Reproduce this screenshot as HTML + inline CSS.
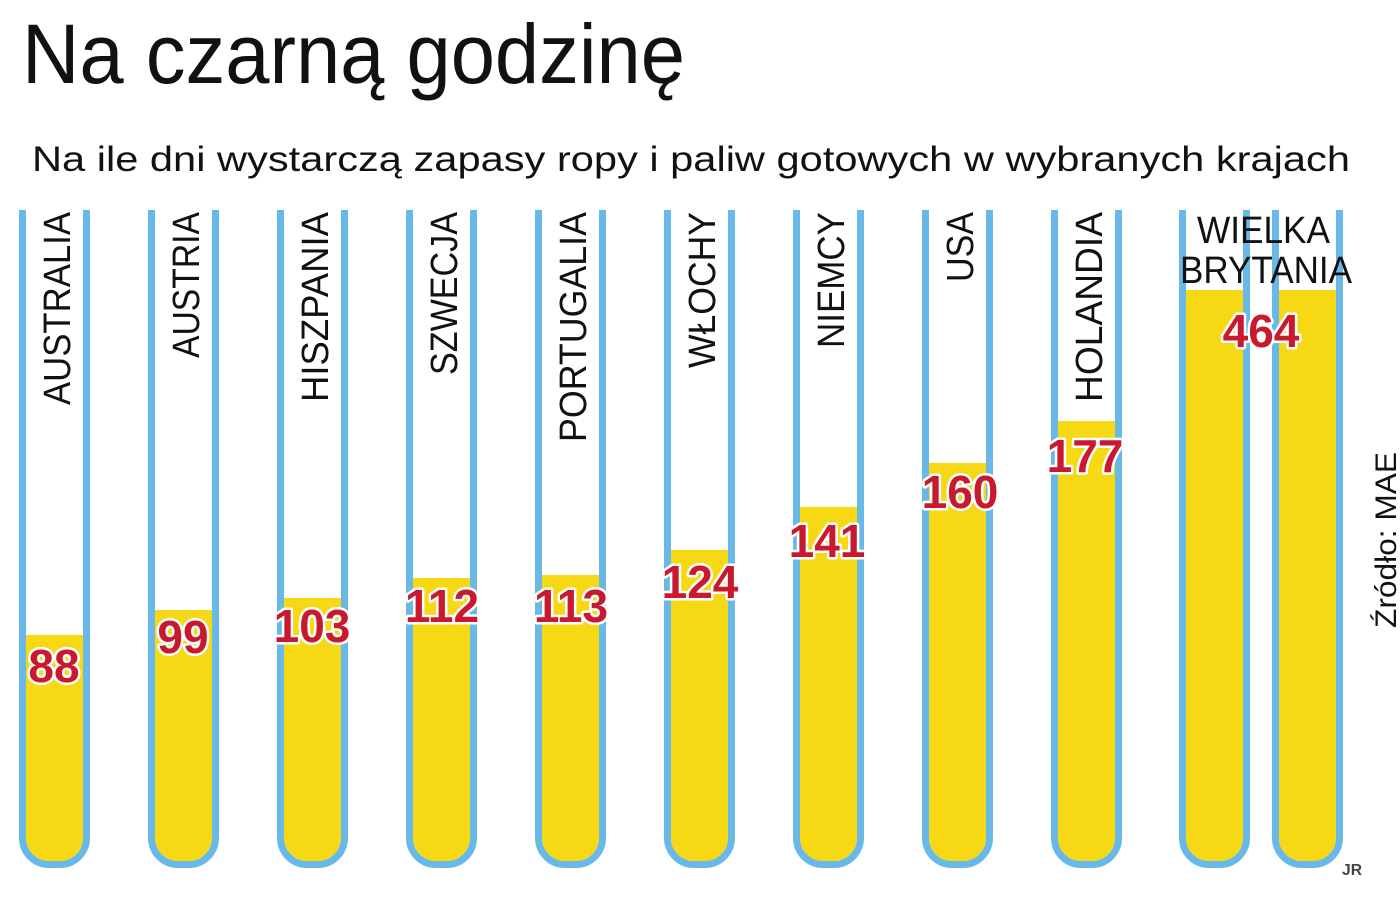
<!DOCTYPE html>
<html>
<head>
<meta charset="utf-8">
<style>
  html,body{margin:0;padding:0;background:#fff;}
  svg{display:block;}
  .t{font-family:"Liberation Sans",sans-serif;fill:#111;}
  .c{font-family:"Liberation Sans",sans-serif;fill:#111;font-size:38px;}
  .v{font-family:"Liberation Sans",sans-serif;font-weight:bold;font-size:46px;fill:#c8192e;stroke:#fff;stroke-width:5px;paint-order:stroke;stroke-linejoin:round;}
  .w{fill:none;stroke:#68b9e8;stroke-width:7;}
  .f{fill:#f6d914;}
</style>
</head>
<body>
<svg width="1400" height="900" viewBox="0 0 1400 900" xmlns="http://www.w3.org/2000/svg">
  <rect width="1400" height="900" fill="#fff"/>

  <text class="t" x="22" y="83" font-size="84" textLength="663" lengthAdjust="spacingAndGlyphs">Na czarną godzinę</text>
  <text class="t" x="32" y="171" font-size="35" textLength="1318" lengthAdjust="spacingAndGlyphs">Na ile dni wystarczą zapasy ropy i paliw gotowych w wybranych krajach</text>

  <!-- Tube template: L = left edge -->
  <!-- AUSTRALIA L=19 fill 635 -->
  <g>
    <path class="f" d="M26 635 H83 V838 A23 23 0 0 1 60 861 H49 A23 23 0 0 1 26 838 Z"/>
    <path class="w" d="M22.5 210 V838 A26.5 26.5 0 0 0 49 864.5 H60 A26.5 26.5 0 0 0 86.5 838 V210"/>
  </g>
  <!-- AUSTRIA L=148 fill 610 -->
  <g transform="translate(129,0)">
    <path class="f" d="M26 610 H83 V838 A23 23 0 0 1 60 861 H49 A23 23 0 0 1 26 838 Z"/>
    <path class="w" d="M22.5 210 V838 A26.5 26.5 0 0 0 49 864.5 H60 A26.5 26.5 0 0 0 86.5 838 V210"/>
  </g>
  <!-- HISZPANIA L=277 fill 598 -->
  <g transform="translate(258,0)">
    <path class="f" d="M26 598 H83 V838 A23 23 0 0 1 60 861 H49 A23 23 0 0 1 26 838 Z"/>
    <path class="w" d="M22.5 210 V838 A26.5 26.5 0 0 0 49 864.5 H60 A26.5 26.5 0 0 0 86.5 838 V210"/>
  </g>
  <!-- SZWECJA L=406 fill 578 -->
  <g transform="translate(387,0)">
    <path class="f" d="M26 578 H83 V838 A23 23 0 0 1 60 861 H49 A23 23 0 0 1 26 838 Z"/>
    <path class="w" d="M22.5 210 V838 A26.5 26.5 0 0 0 49 864.5 H60 A26.5 26.5 0 0 0 86.5 838 V210"/>
  </g>
  <!-- PORTUGALIA L=535 fill 575 -->
  <g transform="translate(516,0)">
    <path class="f" d="M26 575 H83 V838 A23 23 0 0 1 60 861 H49 A23 23 0 0 1 26 838 Z"/>
    <path class="w" d="M22.5 210 V838 A26.5 26.5 0 0 0 49 864.5 H60 A26.5 26.5 0 0 0 86.5 838 V210"/>
  </g>
  <!-- WLOCHY L=664 fill 550 -->
  <g transform="translate(645,0)">
    <path class="f" d="M26 550 H83 V838 A23 23 0 0 1 60 861 H49 A23 23 0 0 1 26 838 Z"/>
    <path class="w" d="M22.5 210 V838 A26.5 26.5 0 0 0 49 864.5 H60 A26.5 26.5 0 0 0 86.5 838 V210"/>
  </g>
  <!-- NIEMCY L=793 fill 507 -->
  <g transform="translate(774,0)">
    <path class="f" d="M26 507 H83 V838 A23 23 0 0 1 60 861 H49 A23 23 0 0 1 26 838 Z"/>
    <path class="w" d="M22.5 210 V838 A26.5 26.5 0 0 0 49 864.5 H60 A26.5 26.5 0 0 0 86.5 838 V210"/>
  </g>
  <!-- USA L=922 fill 463 -->
  <g transform="translate(903,0)">
    <path class="f" d="M26 463 H83 V838 A23 23 0 0 1 60 861 H49 A23 23 0 0 1 26 838 Z"/>
    <path class="w" d="M22.5 210 V838 A26.5 26.5 0 0 0 49 864.5 H60 A26.5 26.5 0 0 0 86.5 838 V210"/>
  </g>
  <!-- HOLANDIA L=1051 fill 421 -->
  <g transform="translate(1032,0)">
    <path class="f" d="M26 421 H83 V838 A23 23 0 0 1 60 861 H49 A23 23 0 0 1 26 838 Z"/>
    <path class="w" d="M22.5 210 V838 A26.5 26.5 0 0 0 49 864.5 H60 A26.5 26.5 0 0 0 86.5 838 V210"/>
  </g>
  <!-- WB tube 1 L=1179 fill 290 -->
  <g transform="translate(1160,0)">
    <path class="f" d="M26 290 H83 V838 A23 23 0 0 1 60 861 H49 A23 23 0 0 1 26 838 Z"/>
    <path class="w" d="M22.5 210 V838 A26.5 26.5 0 0 0 49 864.5 H60 A26.5 26.5 0 0 0 86.5 838 V210"/>
  </g>
  <!-- WB tube 2 L=1272 fill 290 -->
  <g transform="translate(1253,0)">
    <path class="f" d="M26 290 H83 V838 A23 23 0 0 1 60 861 H49 A23 23 0 0 1 26 838 Z"/>
    <path class="w" d="M22.5 210 V838 A26.5 26.5 0 0 0 49 864.5 H60 A26.5 26.5 0 0 0 86.5 838 V210"/>
  </g>

  <!-- Country labels (vertical) -->
  <text class="c" transform="translate(70,212) rotate(-90)" text-anchor="end" textLength="193" lengthAdjust="spacingAndGlyphs">AUSTRALIA</text>
  <text class="c" transform="translate(199,212) rotate(-90)" text-anchor="end" textLength="146" lengthAdjust="spacingAndGlyphs">AUSTRIA</text>
  <text class="c" transform="translate(328,212) rotate(-90)" text-anchor="end" textLength="190" lengthAdjust="spacingAndGlyphs">HISZPANIA</text>
  <text class="c" transform="translate(457,212) rotate(-90)" text-anchor="end" textLength="163" lengthAdjust="spacingAndGlyphs">SZWECJA</text>
  <text class="c" transform="translate(586,212) rotate(-90)" text-anchor="end" textLength="230" lengthAdjust="spacingAndGlyphs">PORTUGALIA</text>
  <text class="c" transform="translate(715,212) rotate(-90)" text-anchor="end" textLength="156" lengthAdjust="spacingAndGlyphs">WŁOCHY</text>
  <text class="c" transform="translate(844,212) rotate(-90)" text-anchor="end" textLength="136" lengthAdjust="spacingAndGlyphs">NIEMCY</text>
  <text class="c" transform="translate(973,212) rotate(-90)" text-anchor="end" textLength="70" lengthAdjust="spacingAndGlyphs">USA</text>
  <text class="c" transform="translate(1102,212) rotate(-90)" text-anchor="end" textLength="190" lengthAdjust="spacingAndGlyphs">HOLANDIA</text>

  <text class="c" x="1197" y="243" textLength="133" lengthAdjust="spacingAndGlyphs">WIELKA</text>
  <text class="c" x="1180" y="283" textLength="172" lengthAdjust="spacingAndGlyphs">BRYTANIA</text>

  <!-- Values -->
  <text class="v" x="54" y="682" text-anchor="middle">88</text>
  <text class="v" x="183" y="653" text-anchor="middle">99</text>
  <text class="v" x="312" y="642" text-anchor="middle">103</text>
  <text class="v" x="442" y="622" text-anchor="middle">112</text>
  <text class="v" x="571" y="622" text-anchor="middle">113</text>
  <text class="v" x="700" y="598" text-anchor="middle">124</text>
  <text class="v" x="827" y="557" text-anchor="middle">141</text>
  <text class="v" x="960" y="508" text-anchor="middle">160</text>
  <text class="v" x="1085" y="472" text-anchor="middle">177</text>
  <text class="v" x="1261" y="347" text-anchor="middle">464</text>

  <!-- Source -->
  <text class="t" transform="translate(1396,628) rotate(-90)" font-size="30" textLength="176" lengthAdjust="spacingAndGlyphs">Źródło: MAE</text>
  <text x="1342" y="875" font-family="Liberation Sans, sans-serif" font-weight="bold" font-size="16" fill="#444" textLength="20" lengthAdjust="spacingAndGlyphs">JR</text>
</svg>
</body>
</html>
